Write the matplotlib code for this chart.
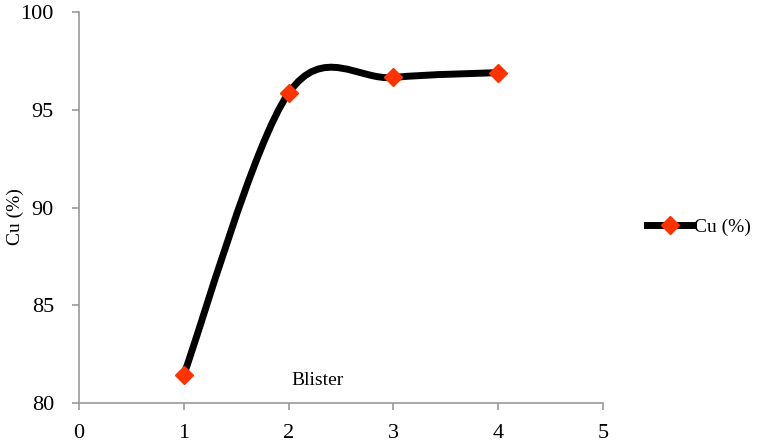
import numpy as np
import matplotlib.pyplot as plt
from matplotlib.path import Path
from matplotlib.patches import PathPatch

# dados
x = [1, 2, 3, 4]
cu = [81.45, 95.85, 96.65, 96.9]
xticks = [0, 1, 2, 3, 4, 5]
yticks = [80, 85, 90, 95, 100]

plt.rcParams['font.family'] = ['Liberation Serif', 'DejaVu Serif']

fig = plt.figure(figsize=(7.58, 4.43), dpi=100)
ax = fig.add_axes([0.1042, 0.0903, 0.6913, 0.8826])

# curva suavizada (estilo excel, bezier catmull-rom)
pts = np.column_stack([x, cu])
verts = [pts[0]]
codes = [Path.MOVETO]
n = len(pts)
for i in range(n - 1):
    p0 = pts[max(i - 1, 0)]
    p1 = pts[i]
    p2 = pts[i + 1]
    p3 = pts[min(i + 2, n - 1)]
    c1 = p1 + (p2 - p0) / 6
    c2 = p2 - (p3 - p1) / 6
    verts += [c1, c2, p2]
    codes += [Path.CURVE4] * 3
curva = PathPatch(Path(verts, codes), facecolor='none', edgecolor='black',
                  lw=5, capstyle='round', joinstyle='round', zorder=2)
ax.add_patch(curva)

ax.plot(x, cu, ls='none', marker='D', ms=9, color='#FF3300', zorder=3)

# legenda
ax.plot([], [], color='black', lw=5, marker='D', ms=9, mfc='#FF3300',
        mec='#FF3300', label='Cu (%)')
ax.legend(loc='center left', bbox_to_anchor=(0.843, 0.488),
          bbox_transform=fig.transFigure, frameon=False, fontsize=14,
          handlelength=2.4, handletextpad=0.05, borderaxespad=0)

ax.text(2.03, 81.15, 'Blister', fontsize=14, va='center', ha='left')

ax.set_xlim(0, 5)
ax.set_ylim(80, 100)
ax.set_xticks(xticks)
ax.set_yticks(yticks)
ax.set_ylabel('Cu (%)', fontsize=14)
ax.yaxis.set_label_coords(-0.105, 0.478)

for s in ['top', 'right']:
    ax.spines[s].set_visible(False)
for s in ['left', 'bottom']:
    ax.spines[s].set_color('#999999')
    ax.spines[s].set_linewidth(1.2)
ax.tick_params(direction='out', length=5, color='#999999', width=1.2,
               labelsize=16)
ax.tick_params(axis='x', pad=10)
ax.tick_params(axis='y', pad=13)

fig.savefig('out.png', dpi=100)
